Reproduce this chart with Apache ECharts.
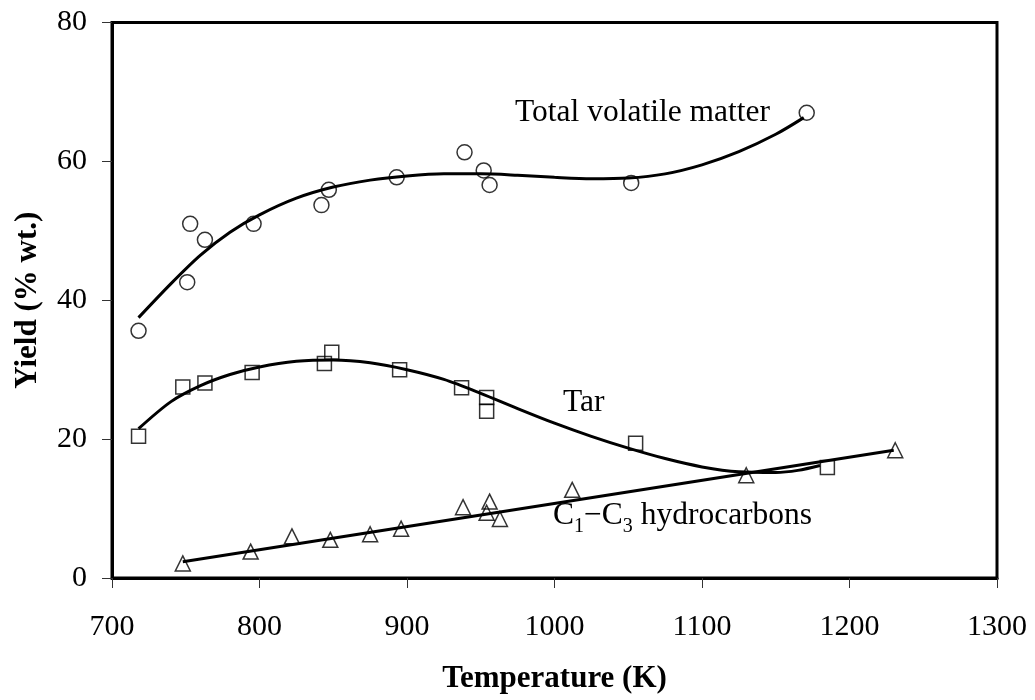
<!DOCTYPE html>
<html>
<head>
<meta charset="utf-8">
<title>Yield vs temperature</title>
<script src="https://cdn.jsdelivr.net/npm/echarts@6/dist/echarts.min.js"></script>
<style>
  html, body { margin: 0; padding: 0; background: #fff; }
  #chart { width: 1035px; height: 700px; }
</style>
</head>
<body>
<div id="chart"></div>
<script>
// Measured yields (% wt.) against pyrolysis temperature (K)
const volatileT = [718, 751, 753, 763, 796, 842, 847, 893, 939, 952, 956, 1052, 1171];
const volatileY = [35.6, 42.6, 51.0, 48.7, 51.0, 53.7, 55.9, 57.7, 61.3, 58.7, 56.6, 56.9, 67.0];

const tarT = [718, 748, 763, 795, 844, 849, 895, 937, 954, 954, 1055, 1185];
const tarY = [20.4, 27.5, 28.1, 29.6, 30.9, 32.5, 30.0, 27.4, 26.0, 24.0, 19.4, 15.9];

const gasT = [748, 794, 822, 848, 875, 896, 938, 954, 956, 963, 1012, 1130, 1231];
const gasY = [2.1, 3.8, 6.0, 5.5, 6.3, 7.1, 10.2, 9.4, 11.0, 8.5, 12.7, 14.8, 18.4];

// Trend curves through the data
const volatileFitT = [718, 740, 760, 780, 800, 825, 850, 875, 900, 925, 950, 975, 1000, 1025, 1050, 1075, 1100, 1125, 1150, 1169];
const volatileFitY = [37.5, 42.4, 46.5, 49.8, 52.3, 54.7, 56.3, 57.3, 57.9, 58.2, 58.2, 58.0, 57.7, 57.5, 57.6, 58.2, 59.5, 61.4, 63.9, 66.3];

const tarFitT = [718, 740, 760, 780, 800, 825, 850, 875, 900, 925, 950, 975, 1000, 1025, 1050, 1075, 1100, 1125, 1150, 1165, 1180];
const tarFitY = [21.5, 25.4, 27.7, 29.3, 30.4, 31.2, 31.4, 31.0, 30.0, 28.6, 26.6, 24.4, 22.3, 20.4, 18.7, 17.2, 16.0, 15.3, 15.2, 15.5, 16.2];

const gasFitT = [748, 1230];
const gasFitY = [2.35, 18.4];

// Axis ticks
const xTicks = [700, 800, 900, 1000, 1100, 1200, 1300];
const yTicks = [0, 20, 40, 60, 80];

const pairs = (xs, ys) => xs.map((x, i) => [x, ys[i]]);

const SERIF = '"Liberation Serif", "Times New Roman", serif';

const markerStyle = {
  color: 'rgba(0,0,0,0)',
  borderColor: '#000',
  borderWidth: 1.5
};

function scatter(name, symbol, size, data) {
  return {
    name: name,
    type: 'scatter',
    symbol: symbol,
    symbolSize: size,
    data: data,
    itemStyle: markerStyle,
    z: 3,
    silent: true
  };
}

function curve(name, data) {
  return {
    name: name,
    type: 'line',
    data: data,
    smooth: 0.3,
    showSymbol: false,
    symbol: 'none',
    lineStyle: { color: '#000', width: 3 },
    z: 2,
    silent: true
  };
}

const chart = echarts.init(document.getElementById('chart'), null, { renderer: 'canvas' });

chart.setOption({
  backgroundColor: '#fff',
  animation: false,
  grid: {
    left: 112,
    top: 22.5,
    width: 885,
    height: 555.5,
    show: true,
    borderColor: '#000',
    borderWidth: 3,
    backgroundColor: 'transparent'
  },
  xAxis: {
    type: 'value',
    min: xTicks[0],
    max: xTicks[xTicks.length - 1],
    interval: xTicks[1] - xTicks[0],
    name: 'Temperature (K)',
    nameLocation: 'middle',
    nameGap: 85,
    nameTextStyle: { fontFamily: SERIF, fontSize: 31, fontWeight: 'bold', color: '#000' },
    axisLine: { show: true, lineStyle: { color: '#000', width: 3 } },
    axisTick: { show: true, inside: false, length: 10, lineStyle: { color: '#333', width: 1 } },
    axisLabel: {
      fontFamily: SERIF, fontSize: 30, color: '#000', margin: 34,
      formatter: (v) => String(v)
    },
    splitLine: { show: false }
  },
  yAxis: {
    type: 'value',
    min: yTicks[0],
    max: yTicks[yTicks.length - 1],
    interval: yTicks[1] - yTicks[0],
    name: 'Yield (% wt.)',
    nameLocation: 'middle',
    nameGap: 69,
    nameRotate: 90,
    nameTextStyle: { fontFamily: SERIF, fontSize: 31, fontWeight: 'bold', color: '#000' },
    axisLine: { show: true, lineStyle: { color: '#000', width: 3 } },
    axisTick: { show: true, inside: false, length: 10, lineStyle: { color: '#333', width: 1 } },
    axisLabel: {
      fontFamily: SERIF, fontSize: 30, color: '#000', margin: 25,
      formatter: (v) => String(v)
    },
    splitLine: { show: false }
  },
  series: [
    curve('Total volatile matter fit', pairs(volatileFitT, volatileFitY)),
    curve('Tar fit', pairs(tarFitT, tarFitY)),
    curve('C1-C3 fit', pairs(gasFitT, gasFitY)),
    scatter('Total volatile matter', 'circle', 15, pairs(volatileT, volatileY)),
    scatter('Tar', 'rect', 14, pairs(tarT, tarY)),
    scatter('C1-C3 hydrocarbons', 'triangle', 15, pairs(gasT, gasY))
  ],
  graphic: [
    {
      type: 'text',
      left: 515,
      top: 97,
      style: { text: 'Total volatile matter', fontFamily: SERIF, fontSize: 31.5, fill: '#000' },
      z: 10
    },
    {
      type: 'text',
      left: 563,
      top: 387,
      style: { text: 'Tar', fontFamily: SERIF, fontSize: 31.5, fill: '#000' },
      z: 10
    },
    {
      type: 'text',
      left: 553,
      top: 499,
      style: {
        text: 'C{sub|1}−C{sub|3} hydrocarbons',
        fontFamily: SERIF,
        fontSize: 31.5,
        lineHeight: 34,
        fill: '#000',
        rich: {
          sub: {
            fontFamily: SERIF,
            fontSize: 20,
            lineHeight: 20,
            verticalAlign: 'bottom',
            fill: '#000',
            padding: [0, 0, -4, 0]
          }
        }
      },
      z: 10
    }
  ]
});
</script>
</body>
</html>
